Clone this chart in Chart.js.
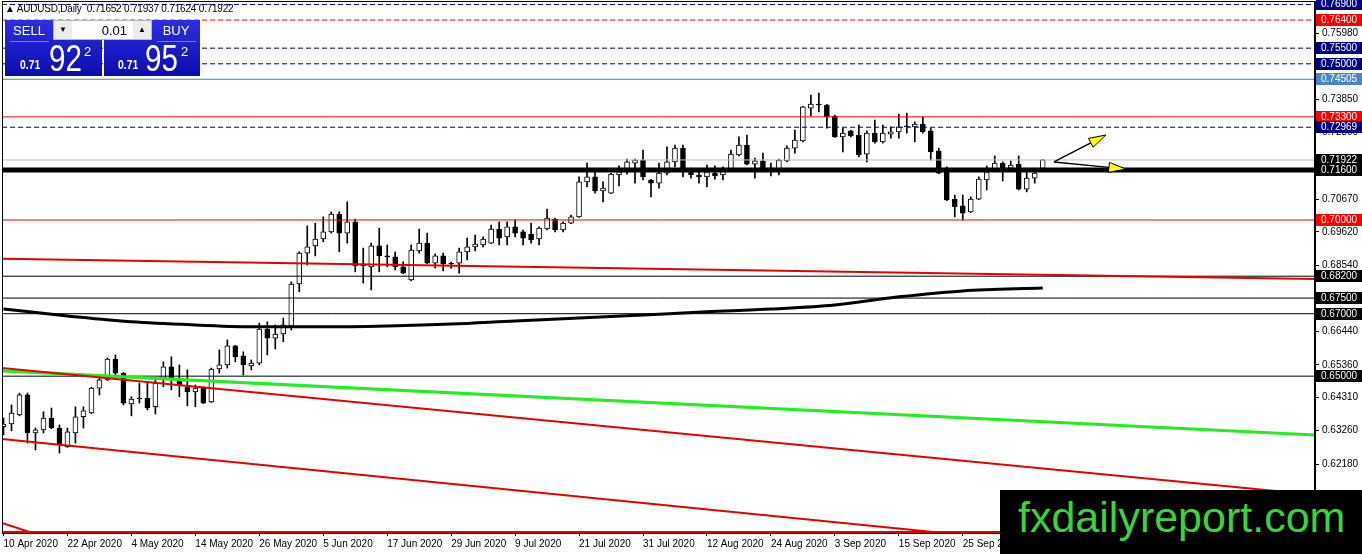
<!DOCTYPE html>
<html>
<head>
<meta charset="utf-8">
<script src="https://cdn.jsdelivr.net/npm/chart.js@4.4.0/dist/chart.umd.min.js"></script>
<style>
html, body { margin: 0; padding: 0; background: #fff; }
#wrap { position: relative; width: 1362px; height: 554px; overflow: hidden; font-family: "Liberation Sans", Arial, sans-serif; }
canvas { display: block; }
#hdr { position: absolute; left: 5px; top: 3px; font-size: 10px; letter-spacing: -0.2px; color: #000; white-space: pre; }
.blue { position: absolute; background: linear-gradient(to bottom, #2e2ee0, #0c0cae); }
.lab { position: absolute; color: #fff; font-size: 13px; text-align: center; }
.sep { position: absolute; height: 1px; background: #7878f0; }
#lot { position: absolute; left: 53px; top: 20px; width: 99px; height: 20px; box-sizing: border-box; background: #fff; border: 1px solid #b8b8b8; }
.btn { position: absolute; top: 0; width: 18px; height: 18px; background: #ececec; font-size: 8px; line-height: 18px; text-align: center; color: #000; }
.px { position: absolute; color: #fff; white-space: nowrap; transform-origin: left top; }
#logo { position: absolute; left: 1000px; top: 490px; width: 362px; height: 64px; background: #000; }
#logo span { position: absolute; left: 18px; top: 6px; font-size: 43px; line-height: 43px; color: #3ad33a; white-space: nowrap; }
</style>
</head>
<body>
<div id="wrap">
  <canvas id="c" width="1362" height="554"></canvas>
  <div id="hdr"></div>
  <div class="blue" style="left:5px;top:20px;width:97px;height:56px"></div>
  <div class="blue" style="left:104px;top:20px;width:96px;height:56px"></div>
  <div class="lab" style="left:5px;top:23px;width:48px;">SELL</div>
  <div class="lab" style="left:152px;top:23px;width:48px;">BUY</div>
  <div class="sep" style="left:10px;top:41px;width:39px"></div>
  <div class="sep" style="left:157px;top:41px;width:39px"></div>
  <div id="lot">
    <div class="btn" style="left:0">&#9660;</div>
    <div style="position:absolute;right:24px;top:2px;font-size:13px;color:#000">0.01</div>
    <div class="btn" style="right:0">&#9650;</div>
  </div>
  <div class="px" style="left:20px;top:57px;font-size:13px;font-weight:bold;transform:scaleX(0.8)">0.71</div>
  <div class="px" style="left:49px;top:38px;font-size:37px;transform:scaleX(0.8)">92</div>
  <div class="px" style="left:84px;top:44px;font-size:13px;">2</div>
  <div class="px" style="left:118px;top:57px;font-size:13px;font-weight:bold;transform:scaleX(0.8)">0.71</div>
  <div class="px" style="left:145px;top:38px;font-size:37px;transform:scaleX(0.8)">95</div>
  <div class="px" style="left:181px;top:44px;font-size:13px;">2</div>
  <div id="logo"><span>fxdailyreport.com</span></div>
</div>
<script>
// AUDUSD daily, one bar per weekday from 10 Apr 2020 to 9 Oct 2020
const opens = [
  0.6338, 0.6347, 0.6376, 0.6440, 0.6318, 0.6328, 0.6366, 0.6334, 0.6274, 0.6318,
  0.6370, 0.6382, 0.6462, 0.6488, 0.6555, 0.6510, 0.6411, 0.6430, 0.6430, 0.6402,
  0.6494, 0.6530, 0.6494, 0.6466, 0.6450, 0.6462, 0.6418, 0.6523, 0.6536, 0.6597,
  0.6565, 0.6533, 0.6542, 0.6651, 0.6622, 0.6635, 0.6661, 0.6795, 0.6894, 0.6917,
  0.6939, 0.6962, 0.7019, 0.6958, 0.6994, 0.6859, 0.6850, 0.6917, 0.6885, 0.6882,
  0.6850, 0.6808, 0.6901, 0.6926, 0.6862, 0.6885, 0.6862, 0.6862, 0.6898, 0.6914,
  0.6920, 0.6926, 0.6971, 0.6946, 0.6978, 0.6962, 0.6955, 0.6939, 0.6971, 0.7003,
  0.6968, 0.6990, 0.7010, 0.7122, 0.7138, 0.7093, 0.7086, 0.7144, 0.7154, 0.7182,
  0.7192, 0.7128, 0.7118, 0.7150, 0.7186, 0.7230, 0.7154, 0.7144, 0.7138, 0.7150,
  0.7144, 0.7163, 0.7208, 0.7240, 0.7179, 0.7189, 0.7166, 0.7160, 0.7189, 0.7230,
  0.7253, 0.7358, 0.7371, 0.7368, 0.7333, 0.7266, 0.7285, 0.7272, 0.7211, 0.7278,
  0.7250, 0.7275, 0.7282, 0.7301, 0.7298, 0.7307, 0.7285, 0.7221, 0.7166, 0.7067,
  0.7045, 0.7026, 0.7067, 0.7128, 0.7163, 0.7182, 0.7166, 0.7179, 0.7099, 0.7134,
  0.71652
];
const highs = [
  0.6366, 0.6408, 0.6446, 0.6446, 0.6334, 0.6386, 0.6398, 0.6344, 0.6334, 0.6402,
  0.6402, 0.6464, 0.6504, 0.6558, 0.6568, 0.6512, 0.6434, 0.6478, 0.6478, 0.6488,
  0.6546, 0.6562, 0.6536, 0.6520, 0.6472, 0.6466, 0.6526, 0.6584, 0.6616, 0.6599,
  0.6578, 0.6552, 0.6670, 0.6674, 0.6664, 0.6686, 0.6802, 0.6898, 0.6981, 0.6990,
  0.7010, 0.7026, 0.7026, 0.7058, 0.7003, 0.6910, 0.6926, 0.6974, 0.6920, 0.6898,
  0.6866, 0.6920, 0.6971, 0.6958, 0.6891, 0.6894, 0.6865, 0.6910, 0.6942, 0.6952,
  0.6946, 0.6984, 0.6994, 0.6994, 0.7000, 0.6968, 0.6990, 0.6978, 0.7035, 0.7006,
  0.6994, 0.7016, 0.7138, 0.7182, 0.7154, 0.7122, 0.7149, 0.7173, 0.7195, 0.7195,
  0.7224, 0.7130, 0.7182, 0.7234, 0.7240, 0.7240, 0.7166, 0.7160, 0.7176, 0.7173,
  0.7170, 0.7224, 0.7266, 0.7272, 0.7198, 0.7214, 0.7182, 0.7195, 0.7237, 0.7288,
  0.7364, 0.7400, 0.7406, 0.7370, 0.7336, 0.7294, 0.7288, 0.7304, 0.7285, 0.7320,
  0.7304, 0.7298, 0.7339, 0.7342, 0.7314, 0.7330, 0.7294, 0.7230, 0.7170, 0.7080,
  0.7080, 0.7074, 0.7138, 0.7173, 0.7205, 0.7186, 0.7189, 0.7205, 0.7166, 0.7166,
  0.71937
];
const lows = [
  0.6312, 0.6325, 0.6373, 0.6286, 0.6264, 0.6318, 0.6332, 0.6254, 0.6272, 0.6286,
  0.6334, 0.6380, 0.6440, 0.6486, 0.6504, 0.6408, 0.6373, 0.6414, 0.6392, 0.6379,
  0.6466, 0.6456, 0.6434, 0.6405, 0.6402, 0.6412, 0.6416, 0.6510, 0.6526, 0.6546,
  0.6504, 0.6520, 0.6536, 0.6568, 0.6587, 0.6610, 0.6648, 0.6770, 0.6856, 0.6885,
  0.6930, 0.6958, 0.6898, 0.6926, 0.6834, 0.6798, 0.6776, 0.6834, 0.6850, 0.6840,
  0.6828, 0.6805, 0.6894, 0.6860, 0.6846, 0.6837, 0.6846, 0.6830, 0.6872, 0.6901,
  0.6914, 0.6924, 0.6920, 0.6920, 0.6946, 0.6920, 0.6926, 0.6920, 0.6968, 0.6962,
  0.6962, 0.6988, 0.7008, 0.7106, 0.7086, 0.7058, 0.7084, 0.7109, 0.7147, 0.7118,
  0.7128, 0.7074, 0.7102, 0.7144, 0.7170, 0.7138, 0.7134, 0.7118, 0.7106, 0.7131,
  0.7128, 0.7160, 0.7205, 0.7176, 0.7134, 0.7154, 0.7141, 0.7144, 0.7186, 0.7214,
  0.7250, 0.7333, 0.7346, 0.7294, 0.7264, 0.7218, 0.7266, 0.7202, 0.7186, 0.7246,
  0.7246, 0.7262, 0.7262, 0.7278, 0.7250, 0.7278, 0.7192, 0.7148, 0.7062, 0.7010,
  0.7000, 0.7024, 0.7065, 0.7096, 0.7160, 0.7125, 0.7160, 0.7096, 0.7090, 0.7118,
  0.71624
];
const closes = [
  0.6347, 0.6382, 0.6440, 0.6318, 0.6328, 0.6366, 0.6334, 0.6283, 0.6322, 0.6370,
  0.6389, 0.6462, 0.6488, 0.6555, 0.6510, 0.6414, 0.6427, 0.6427, 0.6398, 0.6478,
  0.6530, 0.6494, 0.6472, 0.6450, 0.6462, 0.6414, 0.6523, 0.6536, 0.6597, 0.6562,
  0.6536, 0.6542, 0.6651, 0.6622, 0.6635, 0.6664, 0.6795, 0.6894, 0.6914, 0.6939,
  0.6962, 0.7019, 0.6958, 0.6994, 0.6853, 0.6853, 0.6917, 0.6885, 0.6882, 0.6850,
  0.6830, 0.6904, 0.6926, 0.6862, 0.6885, 0.6859, 0.6859, 0.6898, 0.6914, 0.6923,
  0.6939, 0.6971, 0.6942, 0.6978, 0.6958, 0.6942, 0.6936, 0.6974, 0.7006, 0.6968,
  0.6990, 0.7010, 0.7122, 0.7138, 0.7093, 0.7102, 0.7147, 0.7154, 0.7186, 0.7192,
  0.7138, 0.7118, 0.7150, 0.7186, 0.7230, 0.7154, 0.7144, 0.7138, 0.7154, 0.7141,
  0.7166, 0.7211, 0.7240, 0.7179, 0.7189, 0.7166, 0.7163, 0.7192, 0.7230, 0.7256,
  0.7362, 0.7371, 0.7368, 0.7330, 0.7266, 0.7278, 0.7269, 0.7208, 0.7278, 0.7250,
  0.7278, 0.7282, 0.7298, 0.7298, 0.7307, 0.7282, 0.7218, 0.7150, 0.7064, 0.7042,
  0.7022, 0.7067, 0.7131, 0.7154, 0.7182, 0.7160, 0.7176, 0.7099, 0.7134, 0.7150,
  0.71922
];

// moving average read at every 8th bar
const maBars = [0, 8, 16, 24, 32, 40, 48, 56, 64, 72, 80, 88, 96, 104, 112, 120, 130];
const maValues = [0.6715, 0.6693, 0.6674, 0.6664, 0.6658, 0.6658, 0.6661, 0.6667, 0.6677,
                  0.6686, 0.6696, 0.6706, 0.6715, 0.6728, 0.6754, 0.6773, 0.6782];

// horizontal levels
const levelPrices = [0.769, 0.764, 0.755, 0.750, 0.74505, 0.733, 0.72969, 0.71922, 0.716,
                     0.700, 0.682, 0.675, 0.670, 0.650, 0.600];

// trend lines: [bar, price] end points
const redTrendA = [[-0.2, 0.6876], [164.1, 0.6811]];
const redTrendB = [[-0.2, 0.6526], [164.1, 0.6120]];
const redTrendC = [[-0.2, 0.6299], [125, 0.5979]];
const redTrendD = [[-0.2, 0.6030], [4.6, 0.5990]];
const greenTrend = [[-0.2, 0.6517], [164.1, 0.6312]];

// arrows
const arrowFrom = [131.4, 0.7186];
const arrowTo = [[137.9, 0.7272], [140.4, 0.7163]];

// axis ticks
const yTicks = [0.7598, 0.7490, 0.7385, 0.7280, 0.7172, 0.7067, 0.6962, 0.6854, 0.6750,
                0.6644, 0.6536, 0.6431, 0.6326, 0.6218];
const tickBars = [0, 8, 16, 24, 32, 40, 48, 56, 64, 72, 80, 88, 96, 104, 112, 120];
const tickLabels = ['10 Apr 2020', '22 Apr 2020', '4 May 2020', '14 May 2020', '26 May 2020',
                    '5 Jun 2020', '17 Jun 2020', '29 Jun 2020', '9 Jul 2020', '21 Jul 2020',
                    '31 Jul 2020', '12 Aug 2020', '24 Aug 2020', '3 Sep 2020', '15 Sep 2020',
                    '25 Sep 2020'];

// styles for the levels, same order as levelPrices
const NAVY = '#000080', RED = '#ff0000';
const levelStyles = [
  { color: NAVY, width: 1, dash: [5, 3], box: NAVY },
  { color: RED, width: 1, dash: [5, 3], box: RED },
  { color: NAVY, width: 1, dash: [5, 3], box: NAVY },
  { color: NAVY, width: 1, dash: [5, 3], box: NAVY },
  { color: '#4682b4', width: 1, dash: [], box: '#4a86c3' },
  { color: RED, width: 1, dash: [], box: RED },
  { color: NAVY, width: 1, dash: [5, 3], box: NAVY },
  { color: '#c0c0c0', width: 1, dash: [], box: '#000' },
  { color: '#000', width: 5, dash: [], box: '#000' },
  { color: RED, width: 1, dash: [], box: RED },
  { color: '#000', width: 1, dash: [], box: '#000' },
  { color: '#000', width: 1, dash: [], box: '#000' },
  { color: '#000', width: 1, dash: [], box: '#000' },
  { color: '#000', width: 1, dash: [], box: '#000' },
  { color: '#e00000', width: 3, dash: [], box: null }
];

const xMin = -0.1875, xMax = 164.0625;
const yMin = 0.5998, yMax = 0.7701;
const FONT = 'Liberation Sans';

const last = closes.length - 1;
document.getElementById('hdr').textContent = '\u25B2 AUDUSD,Daily  ' +
  [opens[last], highs[last], lows[last], closes[last]].map(v => v.toFixed(5)).join(' ');

const bodyData = opens.map((o, i) => ({ x: i, y: [o, closes[i]] }));
const wickData = lows.map((l, i) => ({ x: i, y: [l, highs[i]] }));
const bodyColors = opens.map((o, i) => closes[i] >= o ? '#fff' : '#000');

function segment(points, color, width, dash) {
  return {
    type: 'line',
    data: points.map(p => ({ x: p[0], y: p[1] })),
    borderColor: color,
    borderWidth: width,
    borderDash: dash || [],
    pointRadius: 0,
    fill: false,
    order: 1
  };
}

const datasets = [
  { type: 'bar', data: wickData, backgroundColor: '#000', barThickness: 1, grouped: false, order: 4 },
  { type: 'bar', data: bodyData, backgroundColor: bodyColors, borderColor: '#000', borderWidth: 1,
    borderSkipped: false, barThickness: 5, minBarLength: 1, grouped: false, order: 3 },
  segment(redTrendA, '#e60000', 2),
  segment(redTrendB, '#e60000', 2),
  segment(redTrendC, '#e60000', 2),
  segment(redTrendD, '#e60000', 2),
  segment(greenTrend, '#22ee22', 3),
  {
    type: 'line',
    data: maBars.map((b, k) => ({ x: b, y: maValues[k] })),
    borderColor: '#000', borderWidth: 3, pointRadius: 0,
    cubicInterpolationMode: 'monotone', fill: false, order: 1
  }
];
levelPrices.forEach((p, k) => {
  const s = levelStyles[k];
  datasets.push(segment([[xMin, p], [xMax, p]], s.color, s.width, s.dash));
});

// right-hand price boxes, frame and arrows
const overlayPlugin = {
  id: 'overlay',
  afterDatasetsDraw(chart) {
    const { ctx, scales: { x, y } } = chart;
    ctx.save();
    const x0 = x.getPixelForValue(arrowFrom[0]);
    const y0 = y.getPixelForValue(arrowFrom[1]);
    arrowTo.forEach(t => {
      const x1 = x.getPixelForValue(t[0]);
      const y1 = y.getPixelForValue(t[1]);
      const ang = Math.atan2(y1 - y0, x1 - x0);
      const len = 17, half = 5;
      const bx = x1 - Math.cos(ang) * len, by = y1 - Math.sin(ang) * len;
      ctx.strokeStyle = '#000';
      ctx.lineWidth = 1.5;
      ctx.beginPath();
      ctx.moveTo(x0, y0);
      ctx.lineTo(bx, by);
      ctx.stroke();
      ctx.beginPath();
      ctx.moveTo(x1, y1);
      ctx.lineTo(bx + Math.sin(ang) * half, by - Math.cos(ang) * half);
      ctx.lineTo(bx - Math.sin(ang) * half, by + Math.cos(ang) * half);
      ctx.closePath();
      ctx.fillStyle = '#ffff00';
      ctx.fill();
      ctx.lineWidth = 1;
      ctx.stroke();
    });
    ctx.restore();
  },
  afterDraw(chart) {
    const { ctx, chartArea: a, scales: { y } } = chart;
    ctx.save();
    ctx.strokeStyle = '#000';
    ctx.lineWidth = 1;
    ctx.strokeRect(a.left + 0.5, a.top + 0.5, a.right - a.left - 1, a.bottom - a.top);
    ctx.font = '10px "' + FONT + '"';
    ctx.textBaseline = 'middle';
    levelPrices.forEach((p, k) => {
      const s = levelStyles[k];
      if (!s.box) return;
      const py = Math.round(y.getPixelForValue(p));
      ctx.fillStyle = s.box;
      ctx.fillRect(a.right + 1, py - 6, 46, 12);
      ctx.fillStyle = '#fff';
      ctx.fillText(p.toFixed(5), a.right + 6, py + 0.5);
    });
    ctx.restore();
  }
};

new Chart(document.getElementById('c'), {
  type: 'bar',
  data: { datasets: datasets },
  plugins: [overlayPlugin],
  options: {
    responsive: false,
    animation: false,
    devicePixelRatio: 1,
    layout: { padding: { left: 2, top: 1, right: 0, bottom: 0 } },
    plugins: { legend: { display: false }, tooltip: { enabled: false } },
    scales: {
      x: {
        type: 'linear', min: xMin, max: xMax, offset: false,
        afterFit(s) { s.height = 21; s.paddingLeft = 0; s.paddingRight = 0; },
        afterBuildTicks(s) { s.ticks = tickBars.map(v => ({ value: v })); },
        ticks: {
          autoSkip: false, maxRotation: 0, align: 'start', padding: 2, color: '#000',
          font: { family: FONT, size: 10 },
          callback: v => tickLabels[tickBars.indexOf(v)]
        },
        grid: { offset: false, drawOnChartArea: false, drawTicks: true, tickLength: 3, color: '#000' },
        border: { display: true, color: '#000' }
      },
      y: {
        position: 'right', min: yMin, max: yMax,
        afterFit(s) { s.width = 47; s.paddingTop = 0; s.paddingBottom = 0; },
        afterBuildTicks(s) { s.ticks = yTicks.map(v => ({ value: v })); },
        ticks: {
          padding: 3, color: '#000', font: { family: FONT, size: 10 },
          callback: v => v.toFixed(5)
        },
        grid: { drawOnChartArea: false, drawTicks: true, tickLength: 4, color: '#000' },
        border: { display: true, color: '#000' }
      }
    }
  }
});
</script>
</body>
</html>
